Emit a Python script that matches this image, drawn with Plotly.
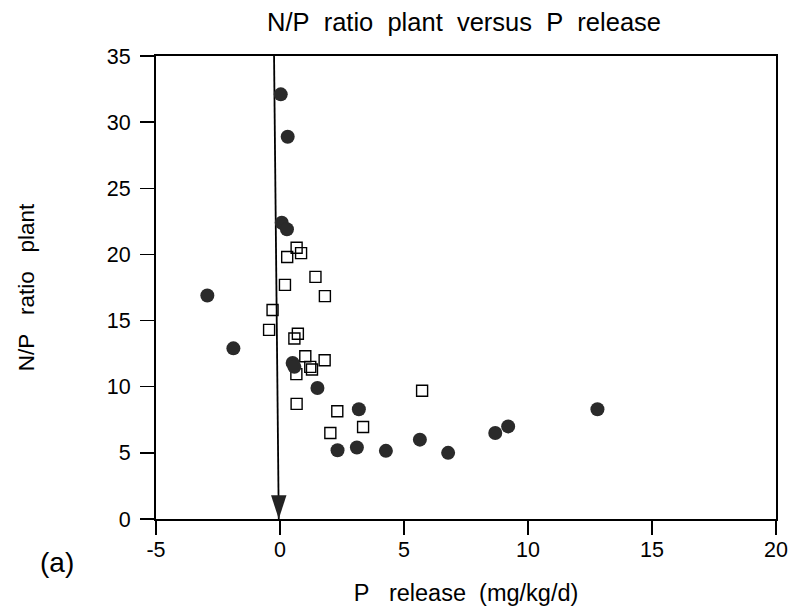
import plotly.graph_objects as go

# Filled circles (series 1)
circle_x = [0.03, 0.31, 0.07, 0.28, -2.93, -1.88, 0.51, 0.58, 1.51, 3.18, 2.32, 3.10, 4.27, 5.64, 6.78, 8.68, 9.20, 12.8]
circle_y = [32.1, 28.9, 22.4, 21.9, 16.9, 12.9, 11.8, 11.5, 9.9, 8.3, 5.2, 5.4, 5.15, 6.0, 5.0, 6.5, 7.0, 8.3]

# Open squares (series 2)
square_x = [0.67, 0.85, 0.29, 1.43, 0.20, 1.81, -0.30, -0.44, 0.72, 0.58, 1.02, 1.80, 1.22, 1.29, 0.66, 0.67, 2.31, 3.35, 2.03, 5.73]
square_y = [20.5, 20.1, 19.8, 18.3, 17.7, 16.85, 15.8, 14.3, 14.0, 13.65, 12.3, 12.0, 11.5, 11.3, 10.95, 8.7, 8.15, 6.95, 6.5, 9.7]

# Vertical arrow at P release = 0
arrow_x = [-0.24, -0.05]
arrow_y = [35, 0]

x_ticks = [-5, 0, 5, 10, 15, 20]
y_ticks = [0, 5, 10, 15, 20, 25, 30, 35]

FONT = "Liberation Sans, Arial, sans-serif"
NB = "\u00a0"

W, H = 790, 606

fig = go.Figure()

fig.add_trace(go.Scatter(
    x=arrow_x, y=arrow_y, mode="lines",
    line=dict(color="black", width=1.8), hoverinfo="skip", showlegend=False))
fig.add_trace(go.Scatter(
    x=[arrow_x[-1]], y=[arrow_y[-1]], mode="markers",
    marker=dict(symbol="arrow", angle=180, size=25, color="#222222",
                line=dict(width=0)),
    hoverinfo="skip", showlegend=False))

fig.add_trace(go.Scatter(
    x=square_x, y=square_y, mode="markers",
    marker=dict(symbol="square-open", size=11, color="black",
                line=dict(width=1.4, color="black")),
    showlegend=False))
fig.add_trace(go.Scatter(
    x=circle_x, y=circle_y, mode="markers",
    marker=dict(symbol="circle", size=14, color="#2a2a2a",
                line=dict(width=0)),
    showlegend=False))

axis_common = dict(
    showgrid=False, zeroline=False, showline=True, linecolor="black",
    linewidth=2, mirror=True, ticks="outside", ticklen=14, tickwidth=1.5,
    tickcolor="black", tickfont=dict(family=FONT, size=21.5, color="black"),
    automargin=False,
)

fig.update_xaxes(range=[-5, 20], tickvals=x_ticks, ticktext=[str(v) for v in x_ticks],
                 ticklabelstandoff=-4,
                 title=dict(text=f"P{NB}{NB}{NB}release{NB}{NB}(mg/kg/d)",
                            font=dict(family=FONT, size=23.5, color="black"), standoff=24),
                 **axis_common)
fig.update_yaxes(range=[0, 35], tickvals=y_ticks, ticktext=[str(v) for v in y_ticks],
                 ticklabelstandoff=5,
                 title=dict(text=f"N/P{NB}{NB}{NB}ratio{NB}{NB}{NB}plant",
                            font=dict(family=FONT, size=22.5, color="black"), standoff=66),
                 **axis_common)

fig.add_annotation(text="(a)", xref="paper", yref="paper", x=-0.16, y=-0.095,
                   xanchor="center", yanchor="middle", showarrow=False,
                   font=dict(family=FONT, size=28, color="black"))

fig.update_layout(
    width=W, height=H, autosize=False,
    margin=dict(l=156, r=14, t=56, b=87),
    paper_bgcolor="white", plot_bgcolor="white",
    hovermode=False,
    title=dict(text=f"N/P{NB}{NB}ratio{NB}{NB}plant{NB}{NB}versus{NB}{NB}P{NB}{NB}release",
               x=464 / W, xref="container", xanchor="center",
               y=1 - 22 / H, yref="container", yanchor="middle",
               automargin=False,
               font=dict(family=FONT, size=25.5, color="black")),
)

# remove the browser's default 8px body margin so the 790x606 figure fills the window
fig.write_html("out.html",
               config={"displayModeBar": False, "staticPlot": True},
               post_script="document.body.style.margin='0';"
                           "document.documentElement.style.overflow='hidden';")
